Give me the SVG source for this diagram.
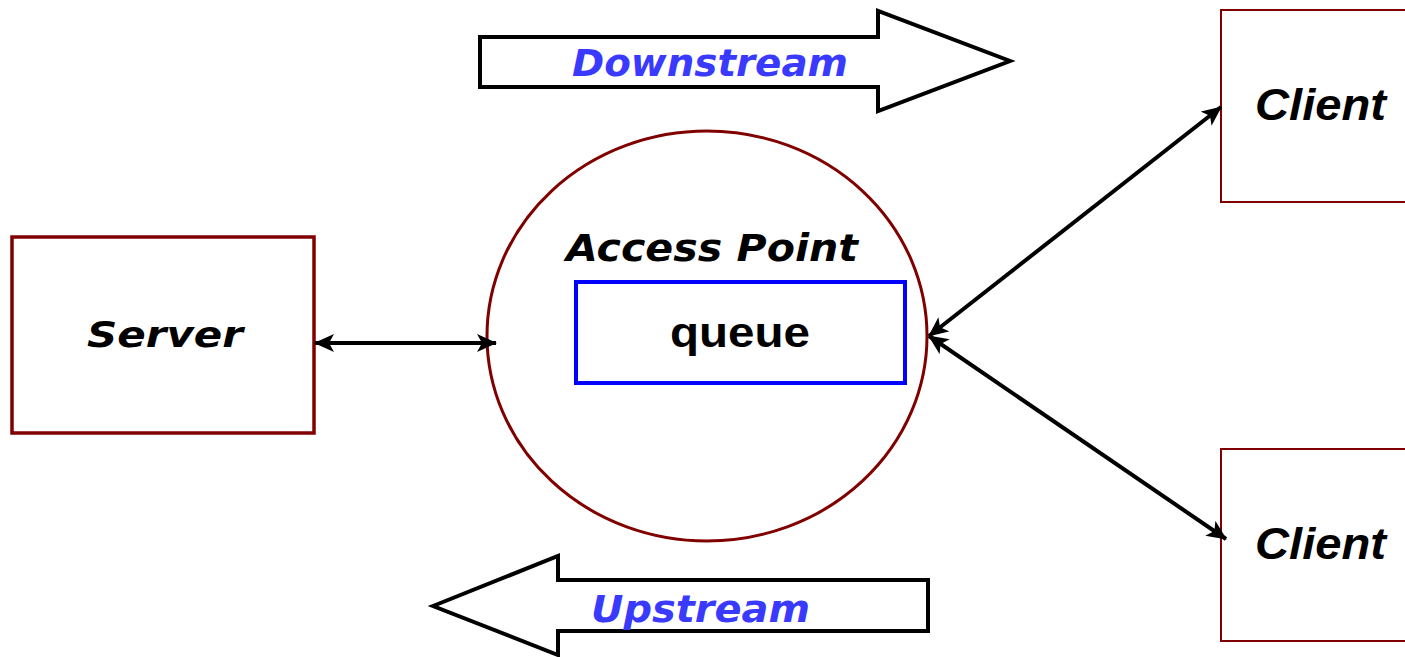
<svg xmlns="http://www.w3.org/2000/svg" width="1405" height="657" viewBox="0 0 1405 657">
<style>
.box{fill:#fff;stroke:#800000}
.comic{font-family:"DejaVu Sans","Liberation Sans",sans-serif;font-weight:bold;font-style:italic}
.blue{fill:#3a3aff}
.arial{font-family:"Liberation Sans",Arial,sans-serif;font-weight:bold}
.conn{stroke:#000;stroke-width:4;fill:none;marker-start:url(#ah);marker-end:url(#ah)}
.big{fill:#fff;stroke:#000;stroke-width:4}
</style>
<defs>
<marker id="ah" viewBox="0 0 20 18" refX="19" refY="9" markerWidth="20" markerHeight="18" markerUnits="userSpaceOnUse" orient="auto-start-reverse">
<path d="M0,0 L20,9 L0,18 L5,9 Z" fill="#000"/>
</marker>
</defs>
<rect width="1405" height="657" fill="#fff"/>
<g id="downstream">
<path class="big" d="M480,37 L878,37 L878,11 L1010,61 L878,111 L878,87 L480,87 Z"/>
<text class="comic blue" x="572" y="76" font-size="38" textLength="276" lengthAdjust="spacingAndGlyphs">Downstream</text>
</g>
<g id="upstream">
<path class="big" d="M433,606 L558,556 L558,580 L928,580 L928,631 L558,631 L558,655 Z"/>
<text class="comic blue" x="591" y="622" font-size="38" textLength="219" lengthAdjust="spacingAndGlyphs">Upstream</text>
</g>
<g id="server">
<rect class="box" x="12" y="237" width="302" height="196" stroke-width="3.5"/>
<text class="comic" x="87" y="347" font-size="36" textLength="156" lengthAdjust="spacingAndGlyphs">Server</text>
</g>
<g id="access-point">
<ellipse class="box" cx="707" cy="336" rx="220" ry="205" stroke-width="3"/>
<text class="comic" x="566" y="261" font-size="37" textLength="292" lengthAdjust="spacingAndGlyphs">Access Point</text>
</g>
<g id="queue">
<rect x="576" y="282" width="329" height="101" fill="#fff" stroke="#0000ff" stroke-width="4"/>
<text class="arial" x="740" y="347" font-size="42" text-anchor="middle" textLength="140" lengthAdjust="spacingAndGlyphs">queue</text>
</g>
<g id="client-top">
<rect class="box" x="1221" y="10" width="200" height="192" stroke-width="2"/>
<text class="arial" x="1255" y="120" font-size="44" font-style="italic" textLength="131" lengthAdjust="spacingAndGlyphs">Client</text>
</g>
<g id="client-bottom">
<rect class="box" x="1221" y="449" width="200" height="192" stroke-width="2"/>
<text class="arial" x="1255" y="559" font-size="44" font-style="italic" textLength="131" lengthAdjust="spacingAndGlyphs">Client</text>
</g>
<g id="connectors">
<line class="conn" x1="315" y1="343" x2="496" y2="343"/>
<line class="conn" x1="929" y1="336" x2="1221" y2="107"/>
<line class="conn" x1="929" y1="336" x2="1226" y2="539"/>
</g>
</svg>
